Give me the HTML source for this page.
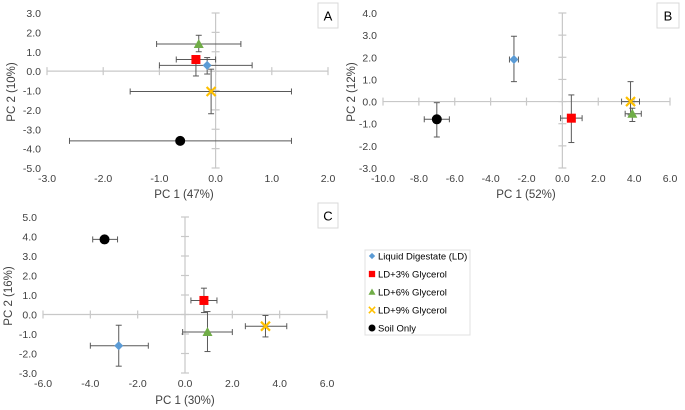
<!DOCTYPE html>
<html><head><meta charset="utf-8"><style>
body{margin:0;background:#fff;}
svg{display:block;font-family:"Liberation Sans",sans-serif;}
</style></head><body>
<svg id="s" width="685" height="410" viewBox="0 0 685 410"></svg>
<script>
const series = ["Liquid Digestate (LD)","LD+3% Glycerol","LD+6% Glycerol","LD+9% Glycerol","Soil Only"];
// Panel A
const aX=[-0.15,-0.35,-0.3,-0.08,-0.63];
const aY=[0.3,0.6,1.4,-1.05,-3.6];
const aXlo=[-1.0,-0.7,-1.05,-1.52,-2.6];
const aXhi=[0.65,0.0,0.45,1.35,1.35];
const aYlo=[-0.15,-0.25,1.0,-2.2,-3.7];
const aYhi=[0.7,0.6,1.85,0.1,-3.5];
const aXticks=[-3,-2,-1,0,1,2];
const aYticks=[3,2,1,0,-1,-2,-3,-4,-5];
// Panel B
const bX=[-2.7,0.5,3.9,3.8,-7.0];
const bY=[1.9,-0.75,-0.55,0.0,-0.8];
const bXlo=[-2.95,-0.1,3.5,3.3,-7.7];
const bXhi=[-2.45,1.1,4.4,4.3,-6.3];
const bYlo=[0.9,-1.85,-0.9,-0.6,-1.6];
const bYhi=[2.95,0.3,-0.3,0.9,-0.05];
const bXticks=[-10,-8,-6,-4,-2,0,2,4,6];
const bYticks=[4,3,2,1,0,-1,-2,-3];
// Panel C
const cX=[-2.8,0.8,0.95,3.4,-3.4];
const cY=[-1.6,0.72,-0.9,-0.6,3.85];
const cXlo=[-4.0,0.25,-0.1,2.55,-3.9];
const cXhi=[-1.55,1.35,2.0,4.3,-2.85];
const cYlo=[-2.65,0.1,-1.9,-1.15,3.75];
const cYhi=[-0.55,1.35,0.15,-0.05,3.95];
const cXticks=[-6,-4,-2,0,2,4,6];
const cYticks=[5,4,3,2,1,0,-1,-2,-3];

const NS="http://www.w3.org/2000/svg";
const svg=document.getElementById('s');
function el(t,a,p){const e=document.createElementNS(NS,t);for(const k in a)e.setAttribute(k,a[k]);(p||svg).appendChild(e);return e;}
function txt(s,a,p){const e=el('text',a,p);e.textContent=s;return e;}
const colors=['#5b9bd5','#ff0000','#70ad47','#ffc000','#000000'];
function marker(i,x,y,g,sc){
  sc=sc||1;let m;
  if(i===0){const r=4.5*sc;m=el('polygon',{points:`${x},${y-r} ${x+r},${y} ${x},${y+r} ${x-r},${y}`,fill:colors[0]},g);}
  else if(i===1){const r=4.5*sc;m=el('rect',{x:x-r,y:y-r,width:2*r,height:2*r,fill:colors[1]},g);}
  else if(i===2){const r=5*sc;m=el('polygon',{points:`${x},${y-r} ${x+r},${y+r*0.8} ${x-r},${y+r*0.8}`,fill:colors[2]},g);}
  else if(i===3){const r=4.5*sc;m=el('path',{d:`M${x-r},${y-r}L${x+r},${y+r}M${x+r},${y-r}L${x-r},${y+r}`,stroke:colors[3],'stroke-width':2.2*sc},g);}
  else {m=el('circle',{cx:x,cy:y,r:5*sc,fill:'#000'},g);}
  return m;
}
function panel(name,letter,X,Y,Xlo,Xhi,Ylo,Yhi,xt,yt,px,py,xt1,yt1,box){
  const g=el('g',{});
  
  
  const x0=xt[0],x1=xt[xt.length-1],yT=yt[0],yB=yt[yt.length-1];
  const sx=v=>px[0]+(v-x0)/(x1-x0)*(px[1]-px[0]);
  const sy=v=>py[0]+(yT-v)/(yT-yB)*(py[1]-py[0]);
  const ax=el('g',{stroke:'#c8c8c8','stroke-width':1.2},g);
  
  
  el('line',{x1:sx(x0),y1:sy(0),x2:sx(x1),y2:sy(0)},ax);
  el('line',{x1:sx(0),y1:sy(yT),x2:sx(0),y2:sy(yB)},ax);
  xt.forEach(v=>{el('line',{x1:sx(v),y1:sy(0)-4,x2:sx(v),y2:sy(0)+4},ax);
    const t=txt(v.toFixed(1),{x:sx(v),y:py[1]+14,'text-anchor':'middle','font-size':10.5,fill:'#404040'},g);
    });
  yt.forEach(v=>{el('line',{x1:sx(0)-4,y1:sy(v),x2:sx(0)+4,y2:sy(v)},ax);
    const t=txt(v.toFixed(1),{x:px[0]-6,y:sy(v)+4,'text-anchor':'end','font-size':10.5,fill:'#404040'},g);
    });
  const t1=txt(xt1[0],{x:xt1[1],y:xt1[2],'text-anchor':'middle','font-size':11.5,fill:'#404040'},g);
  
  const t2=txt(yt1[0],{x:0,y:0,transform:`translate(${yt1[1]},${yt1[2]}) rotate(-90)`,'text-anchor':'middle','font-size':11.5,fill:'#404040'},g);
  
  const b=el('rect',{x:box[0],y:box[1],width:box[2],height:box[3],fill:'#fff',stroke:'#d9d9d9'},g);
  
  const bl=txt(letter,{x:box[0]+box[2]/2,y:box[1]+box[3]/2+5,'text-anchor':'middle','font-size':13,fill:'#000'},g);
  
  X.forEach((v,i)=>{
    const eg=el('g',{stroke:'#595959','stroke-width':1},g);
    
    
    const cx=sx(v),cy=sy(Y[i]);
    el('line',{x1:sx(Xlo[i]),y1:cy,x2:sx(Xhi[i]),y2:cy},eg);
    el('line',{x1:sx(Xlo[i]),y1:cy-3,x2:sx(Xlo[i]),y2:cy+3},eg);
    el('line',{x1:sx(Xhi[i]),y1:cy-3,x2:sx(Xhi[i]),y2:cy+3},eg);
    el('line',{x1:cx,y1:sy(Ylo[i]),x2:cx,y2:sy(Yhi[i])},eg);
    el('line',{x1:cx-3,y1:sy(Ylo[i]),x2:cx+3,y2:sy(Ylo[i])},eg);
    el('line',{x1:cx-3,y1:sy(Yhi[i]),x2:cx+3,y2:sy(Yhi[i])},eg);
  });
  X.forEach((v,i)=>{
    const m=marker(i,sx(v),sy(Y[i]),g);
    
    
  });
}
panel('a','A',aX,aY,aXlo,aXhi,aYlo,aYhi,aXticks,aYticks,[47,328],[13,168],['PC 1 (47%)',184,198],['PC 2 (10%)',15,92],[318,3,20,25]);
panel('b','B',bX,bY,bXlo,bXhi,bYlo,bYhi,bXticks,bYticks,[383,670],[13,168],['PC 1 (52%)',526,198],['PC 2 (12%)',355,92],[657,3,22,25]);
panel('c','C',cX,cY,cXlo,cXhi,cYlo,cYhi,cXticks,cYticks,[43,327],[217,373],['PC 1 (30%)',185,404],['PC 2 (16%)',12,296],[318,203,20,25]);

const lg=el('g',{});


el('rect',{x:365,y:250,width:105,height:85,fill:'#fff',stroke:'#e0e0e0'},lg);
series.forEach((s,i)=>{
  const y=256+i*18;
  const e=el('g',{},lg);
  
  
  marker(i,372,y,e,0.7);
  txt(s,{x:378,y:y+3.5,'font-size':9.5,fill:'#000'},e);
});
</script>
</body></html>
